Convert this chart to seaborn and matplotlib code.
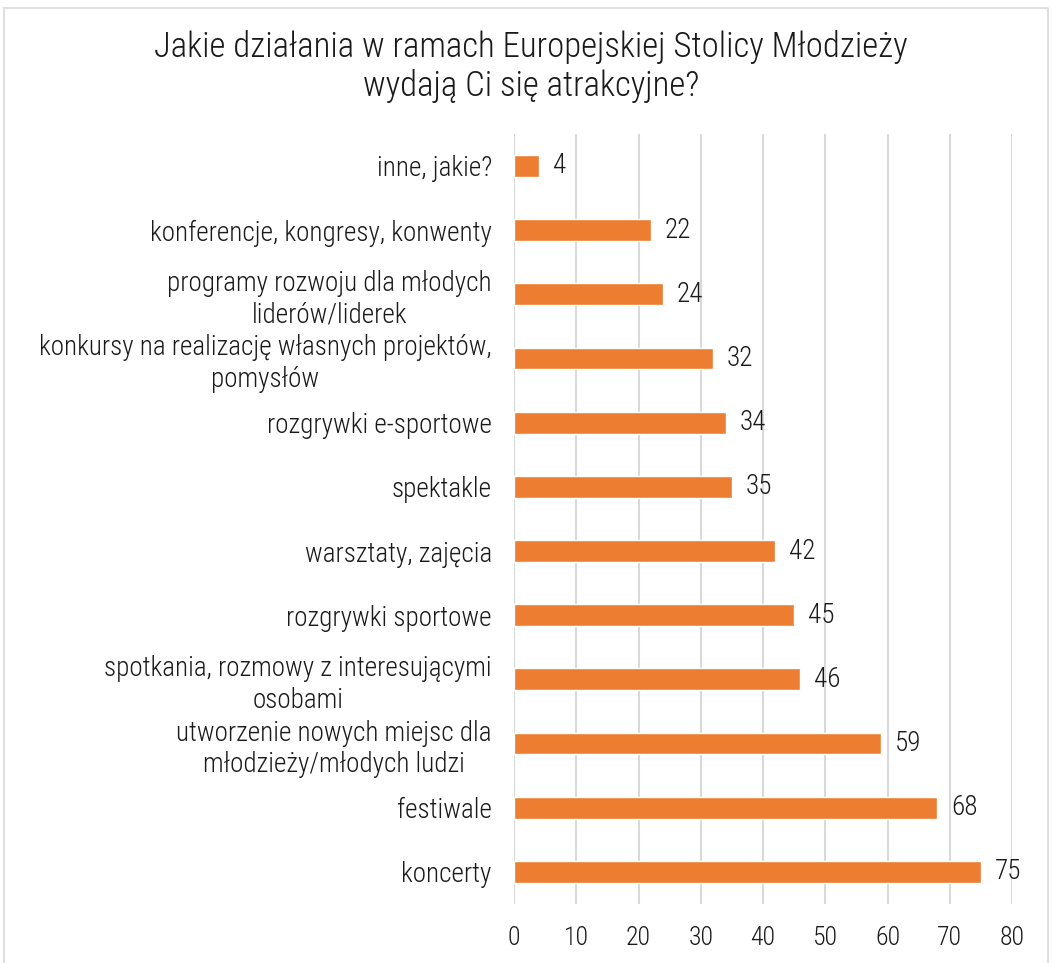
import matplotlib
matplotlib.use("Agg")
import matplotlib.pyplot as plt
import seaborn as sns
import pandas as pd
from matplotlib import font_manager
from matplotlib.patches import Rectangle

categories = [
    "inne, jakie?",
    "konferencje, kongresy, konwenty",
    "programy rozwoju dla młodych\nliderów/liderek",
    "konkursy na realizację własnych projektów,\npomysłów",
    "rozgrywki e-sportowe",
    "spektakle",
    "warsztaty, zajęcia",
    "rozgrywki sportowe",
    "spotkania, rozmowy z interesującymi\nosobami",
    "utworzenie nowych miejsc dla\nmłodzieży/młodych ludzi",
    "festiwale",
    "koncerty",
]
values = [4, 22, 24, 32, 34, 35, 42, 45, 46, 59, 68, 75]
x_ticks = [0, 10, 20, 30, 40, 50, 60, 70, 80]
title = "Jakie działania w ramach Europejskiej Stolicy Młodzieży\nwydają Ci się atrakcyjne?"

# pick a narrow font if one is installed
names = {f.name for f in font_manager.fontManager.ttflist}
family = "DejaVu Sans"
for cand in ["Roboto Condensed", "Liberation Sans Narrow", "DejaVu Sans Condensed"]:
    if cand in names:
        family = cand
        break

sns.set_theme(style="white")
plt.rcParams["font.family"] = [family, "DejaVu Sans"]
plt.rcParams["font.weight"] = "light"
plt.rcParams["text.color"] = "#1a1a1a"

df = pd.DataFrame({"kategoria": categories, "liczba": values})

fig = plt.figure(figsize=(10.52, 9.63), dpi=100)
ax = fig.add_axes([0.4886, 0.0613, 0.4734, 0.7997])

sns.barplot(data=df, x="liczba", y="kategoria", orient="h", color="#ED7D31",
            saturation=1, width=0.34, ax=ax)

ax.set_xlim(0, 80)
ax.set_xticks(x_ticks)
ax.set_xticklabels([str(t) for t in x_ticks], fontsize=18.5, color="#1a1a1a")
ax.tick_params(axis="x", length=0, pad=16)
ax.tick_params(axis="y", length=0, pad=16)
for lab in ax.get_yticklabels():
    lab.set_fontsize(19.5)
    lab.set_color("#1a1a1a")
    lab.set_multialignment("center")
ax.set_xlabel("")
ax.set_ylabel("")
ax.xaxis.grid(True, color="#D9D9D9", linewidth=1.5)
ax.set_axisbelow(True)
for s in ax.spines.values():
    s.set_visible(False)

for i, v in enumerate(values):
    ax.text(v + 2.2, i, str(v), va="center", ha="left", fontsize=19.5, color="#1a1a1a")

fig.text(0.505, 0.969, title, ha="center", va="top", fontsize=25, linespacing=1.2)

fig.patches.append(Rectangle((0.004, -0.01), 0.992, 1.002, transform=fig.transFigure,
                             fill=False, edgecolor="#D9D9D9", linewidth=1.2))

fig.savefig("out.png", dpi=100)
